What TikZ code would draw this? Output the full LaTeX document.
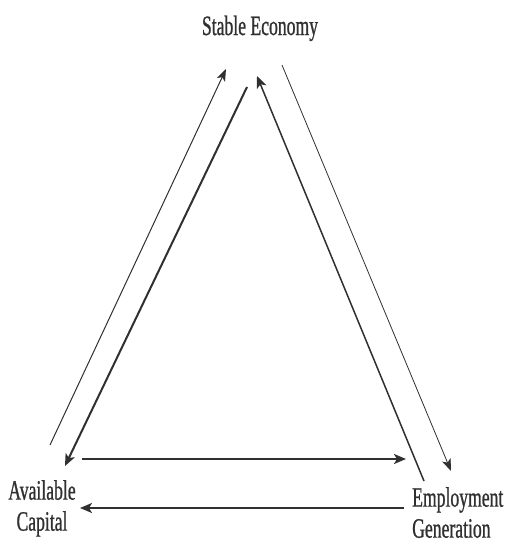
\documentclass[tikz,border=0pt]{standalone}
\usepackage{fontspec}
\setmainfont{Liberation Serif}[FakeStretch=0.63,FakeBold=0.8]
\usetikzlibrary{arrows.meta}
\definecolor{ink}{HTML}{303030}
\begin{document}
\begin{tikzpicture}[x=1pt,y=-1pt,
  lbl/.style={inner sep=0pt,text=ink,font=\fontsize{28}{31}\selectfont},
  thinarr/.style={draw=ink,line width=1pt,-{Stealth[length=12pt,width=9pt,inset=3pt]}},
  thickarr/.style={draw=ink,line width=2pt,-{Stealth[length=12pt,width=10pt,inset=3pt]}},
  thinline/.style={draw=ink,line width=1pt}]
\useasboundingbox[fill=white] (0,0) rectangle (505,547);
% labels
\node[lbl,anchor=base] (se) at (260,35) {Stable Economy};
\node[lbl,anchor=north,align=center] (ac) at (42,480) {Available\\Capital};
\node[lbl,anchor=north west,align=left] (eg) at (412,487) {Employment\\Generation};
% endpoints
\coordinate (l1s) at (50,445);  \coordinate (l1e) at (226,69);
\coordinate (l2s) at (247,87);  \coordinate (l2e) at (65,466);
\coordinate (r1s) at (424,481); \coordinate (r1e) at (257,76);
\coordinate (r2s) at (282,65);  \coordinate (r2e) at (451,471);
\coordinate (b1s) at (82,459);  \coordinate (b1e) at (406,459);
\coordinate (b2s) at (404,508); \coordinate (b2e) at (80,508);
% connectors
\draw[thinarr] (l1s) -- (l1e);
\draw[thickarr] (l2s) -- (l2e);
\draw[thickarr,line width=1.5pt] (r1s) -- (r1e);
\draw[thinarr,line width=0.8pt] (r2s) -- (r2e);
\draw[thickarr] (b1s) -- (b1e);
\draw[thickarr] (b2s) -- (b2e);
\end{tikzpicture}
\end{document}
